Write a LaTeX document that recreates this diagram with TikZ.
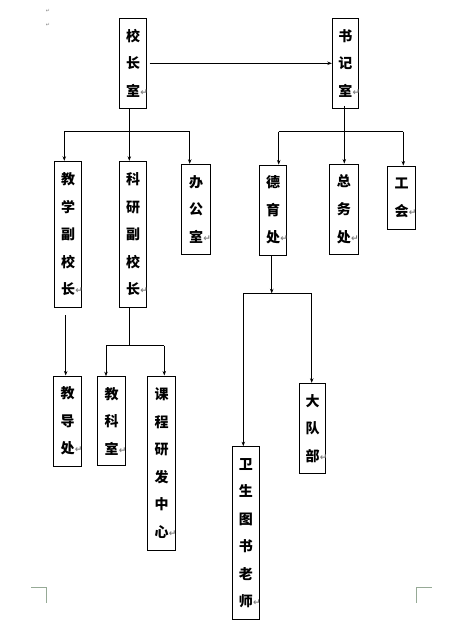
\documentclass[tikz,border=0pt]{standalone}
\usepackage{fontspec}
\newfontfamily\cjk{Noto Sans CJK SC}
\newfontfamily\dejavu{DejaVu Sans}
\usetikzlibrary{arrows.meta}
\newcommand\pmark{\rlap{\hspace{0.4pt}\raisebox{1pt}{\textcolor{gray}{\dejavu\fontsize{9}{9}\selectfont ↵}}}}
\tikzset{
  orgbox/.style={draw, line width=1pt, inner sep=0pt, align=center,
    font=\cjk\bfseries\fontsize{14}{27.5}\selectfont},
  conn/.style={line width=1pt},
  arr/.style={line width=1pt, -{Stealth[length=4.5pt,width=3.5pt]}},
  crop/.style={line width=1pt, color={rgb,255:red,150;green,170;blue,150}}
}
\begin{document}
\begin{tikzpicture}[x=1pt,y=-1pt]
\useasboundingbox[fill=white] (0,0) rectangle (468,631);
% top paragraph marks
\node[inner sep=0, text=gray, font=\dejavu\fontsize{5}{5}\selectfont] (pm1) at (48,11) {↵};
\node[inner sep=0, text=gray, font=\dejavu\fontsize{5}{5}\selectfont] (pm2) at (48,25) {↵};
% boxes
\node[orgbox, minimum width=27.4, minimum height=90] (xz) at (133,63.3) {校\\长\\室\pmark};
\node[orgbox, minimum width=26, minimum height=90] (sj) at (345.3,63.3) {书\\记\\室\pmark};
\node[orgbox, minimum width=27.4, minimum height=146] (jx) at (68,234.3) {教\\学\\副\\校\\长\pmark};
\node[orgbox, minimum width=27.4, minimum height=146] (ky) at (133,234.3) {科\\研\\副\\校\\长\pmark};
\node[orgbox, minimum width=29.4, minimum height=90] (bg) at (196,209.3) {办\\公\\室\pmark};
\node[orgbox, minimum width=27.4, minimum height=90.3] (dy) at (273,210.2) {德\\育\\处\pmark};
\node[orgbox, minimum width=29, minimum height=90.3] (zw) at (343.8,209.2) {总\\务\\处\pmark};
\node[orgbox, minimum width=28.4, minimum height=63.3] (gh) at (401.5,197.7) {工\\会\pmark};
\node[orgbox, minimum width=28.4, minimum height=90] (jd) at (67.5,421) {教\\导\\处\pmark};
\node[orgbox, minimum width=28.4, minimum height=89.3] (jk) at (111.5,421.3) {教\\科\\室\pmark};
\node[orgbox, minimum width=28.4, minimum height=174] (kc) at (161.5,463) {课\\程\\研\\发\\中\\心\pmark};
\node[orgbox, minimum width=26.4, minimum height=90] (dd) at (312.5,428.3) {大\\队\\部\pmark};
\node[orgbox, minimum width=27, minimum height=173.3] (ws) at (245.8,533.3) {卫\\生\\图\\书\\老\\师\pmark};
% junction coordinates
\coordinate (a1) at (64.3,131.7);
\coordinate (a2) at (129.3,131.7);
\coordinate (a3) at (189.7,131.7);
\coordinate (b1) at (278.7,131.7);
\coordinate (b2) at (344.3,131.7);
\coordinate (b3) at (403.3,131.7);
\coordinate (c1) at (65.7,315);
\coordinate (d1) at (106,345.7);
\coordinate (d2) at (129.3,345.7);
\coordinate (d3) at (164.3,345.7);
\coordinate (e1) at (243.3,293.3);
\coordinate (e2) at (271.7,293.3);
\coordinate (e3) at (311.7,293.3);
% connectors
\draw[arr] ([xshift=2.5pt]xz.east) -- (sj.west);
\draw[conn] (xz.south -| a2) -- (a2);
\draw[conn] (a1) -- (a3);
\draw[arr] (a1) -- (jx.north -| a1);
\draw[arr] (a2) -- (ky.north -| a2);
\draw[arr] (a3) -- (bg.north -| a3);
\draw[conn] ([yshift=3pt]sj.south -| b2) -- (b2);
\draw[conn] (b1) -- (b3);
\draw[arr] (b1) -- (dy.north -| b1);
\draw[arr] (b2) -- (zw.north -| b2);
\draw[arr] (b3) -- (gh.north -| b3);
\draw[arr] (c1) -- (jd.north -| c1);
\draw[conn] (ky.south -| d2) -- (d2);
\draw[conn] (d1) -- (d3);
\draw[arr] (d1) -- (jk.north -| d1);
\draw[arr] (d3) -- (kc.north -| d3);
\draw[arr] (dy.south -| e2) -- (e2);
\draw[conn] (e1) -- (e3);
\draw[arr] (e1) -- (ws.north -| e1);
\draw[arr] (e3) -- (dd.north -| e3);
% crop marks
\draw[crop] (31,587.3) -- (46.7,587.3) -- (46.7,602.7);
\draw[crop] (416.7,602.7) -- (416.7,587.3) -- (431.7,587.3);
\end{tikzpicture}
\end{document}
